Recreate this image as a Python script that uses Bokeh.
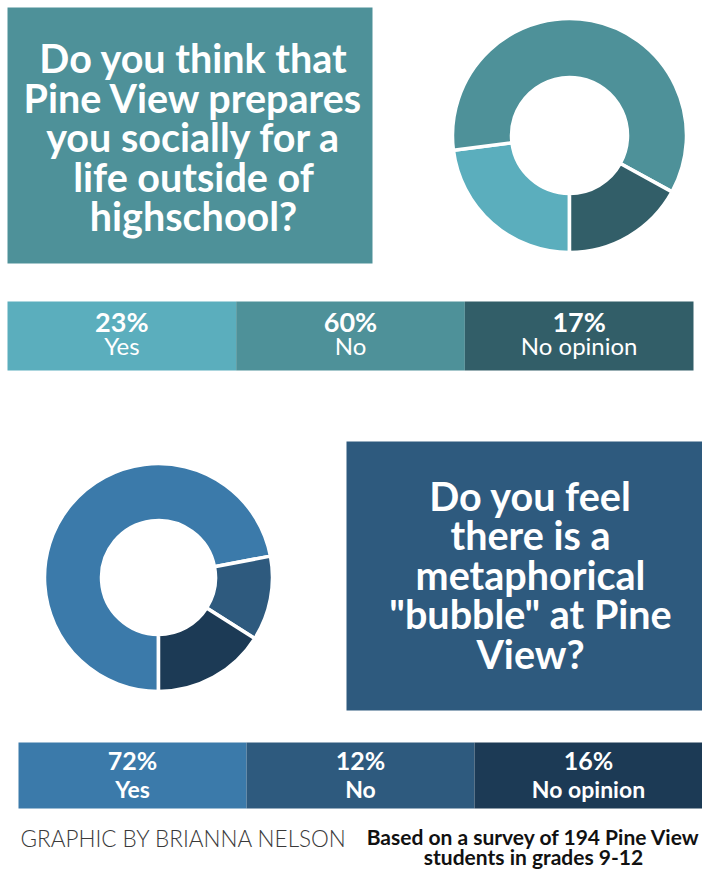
import numpy as np
from bokeh.plotting import figure
from bokeh.models import Range1d
from bokeh.core.properties import value
from bokeh.embed import file_html
from bokeh.resources import INLINE

# ---- data ----
categories = ["Yes", "No", "No opinion"]
q1_values = [23, 60, 17]
q2_values = [72, 12, 16]
q1_colors = ["#5BAEBD", "#4E9199", "#325E68"]
q2_colors = ["#3B7AAA", "#2E5A7E", "#1C3A55"]
q1_lines = ["Do you think that", "Pine View prepares", "you socially for a",
            "life outside of", "highschool?"]
q2_lines = ["Do you feel", "there is a", "metaphorical",
            "\"bubble\" at Pine", "View?"]
credit = "GRAPHIC BY BRIANNA NELSON"
note_lines = ["Based on a survey of 194 Pine View", "students in grades 9-12"]

W, H = 702, 874
p = figure(width=W, height=H, x_range=Range1d(0, W), y_range=Range1d(0, H),
           output_backend="svg", toolbar_location=None, min_border=0,
           background_fill_color="white", border_fill_color="white")
p.axis.visible = False
p.grid.visible = False
p.outline_line_color = None

def Y(py):
    return H - py

LATO = value("Lato")

def donut(cx, cy, r_in, r_out, vals, colors):
    vals = np.array(vals, dtype=float)
    cum = np.concatenate([[0], np.cumsum(vals)]) / vals.sum() * 2 * np.pi
    base = -np.pi / 2
    starts = base - cum[1:]
    ends = base - cum[:-1]
    p.annular_wedge(x=cx, y=Y(cy), inner_radius=r_in, outer_radius=r_out,
                    start_angle=list(starts), end_angle=list(ends),
                    fill_color=colors, line_color="white", line_width=3.5,
                    direction="anticlock")

def bar(x0, x1, ytop, ybot, vals, colors, pct_y, lab_y, pct_size, lab_size, lab_style):
    n = len(vals)
    w = (x1 - x0) / n
    lefts = [x0 + i * w for i in range(n)]
    rights = [x0 + (i + 1) * w for i in range(n)]
    p.quad(left=lefts, right=rights, top=Y(ytop), bottom=Y(ybot),
           fill_color=colors, line_color=None)
    mids = [(l + r) / 2 for l, r in zip(lefts, rights)]
    p.text(x=mids, y=Y(pct_y), text=[f"{v}%" for v in vals],
           text_font=LATO, text_font_style="bold", text_font_size=pct_size,
           text_color="white", text_align="center", text_baseline="middle")
    p.text(x=mids, y=Y(lab_y), text=categories,
           text_font=LATO, text_font_style=lab_style, text_font_size=lab_size,
           text_color="white", text_align="center", text_baseline="middle")

# ---- top section ----
p.quad(left=7, right=372, top=Y(7), bottom=Y(263), fill_color="#4E9199", line_color=None)
p.text(x=[193] * len(q1_lines), y=[Y(57 + 39.5 * i) for i in range(len(q1_lines))],
       text=q1_lines, text_font=LATO, text_font_style="bold", text_font_size="39.5px",
       text_color="white", text_align="center", text_baseline="middle")
donut(569, 135, 58, 117, q1_values, q1_colors)
bar(7, 693, 301, 370, q1_values, q1_colors, 320.5, 345, "27px", "24px", "normal")

# ---- bottom section ----
p.quad(left=346, right=702, top=Y(441), bottom=Y(710), fill_color="#2E5A7E", line_color=None)
p.text(x=[530] * len(q2_lines), y=[Y(494.5 + 39.5 * i) for i in range(len(q2_lines))],
       text=q2_lines, text_font=LATO, text_font_style="bold", text_font_size="39.5px",
       text_color="white", text_align="center", text_baseline="middle")
donut(158, 577, 57, 114, q2_values, q2_colors)
bar(18, 702, 742, 808, q2_values, q2_colors, 759.5, 788.5, "25px", "23px", "bold")

# ---- footer ----
p.text(x=[20], y=[Y(837.5)], text=[credit], text_font=value("Lato Light"),
       text_font_size="22.5px", text_color="#3a3a3a", text_align="left",
       text_baseline="middle")
p.text(x=[533, 533], y=[Y(836), Y(856)], text=note_lines, text_font=LATO,
       text_font_style="bold", text_font_size="21px", text_color="#111111",
       text_align="center", text_baseline="middle")

open("out.html", "w").write(file_html(p, INLINE))
